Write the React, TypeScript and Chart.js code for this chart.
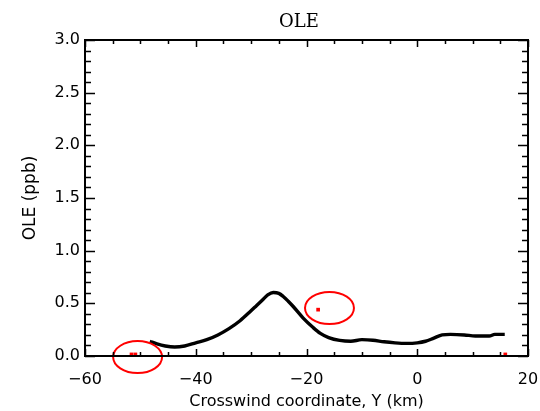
import React, { useEffect, useRef } from "react";
import { Chart, registerables } from "chart.js";

Chart.register(...registerables);

// Model curve (crosswind coordinate in km, OLE in ppb)
const curveX = [-48.3, -47, -45.5, -43.8, -42, -40, -38, -36, -34, -32, -30.2, -29, -28, -27, -26, -25, -24.2, -23.3, -22.4, -20.6, -18.8, -17.5, -16, -14, -12, -10, -8, -6, -4, -2, 0, 1.5, 3, 4.5, 6, 8.5, 10.5, 13, 14, 15.8];
const curveY = [0.14, 0.115, 0.095, 0.085, 0.095, 0.125, 0.155, 0.2, 0.26, 0.335, 0.42, 0.48, 0.53, 0.58, 0.603, 0.595, 0.565, 0.52, 0.47, 0.36, 0.27, 0.215, 0.175, 0.148, 0.14, 0.155, 0.15, 0.135, 0.125, 0.12, 0.125, 0.14, 0.17, 0.2, 0.205, 0.2, 0.19, 0.19, 0.205, 0.205];

// Observations (red squares)
const obsX = [-51.6, -50.9, -17.9, 15.9];
const obsY = [0.015, 0.015, 0.44, 0.015];

// Highlight ellipses (data units)
const ellipseCX = [-50.5, -15.85];
const ellipseCY = [-0.01, 0.456];
const ellipseRX = [4.42, 4.42];
const ellipseRY = [0.152, 0.152];

// Axis ticks
const xMajorTicks = [-60, -40, -20, 0, 20];
const yMajorTicks = [0, 0.5, 1.0, 1.5, 2.0, 2.5, 3.0];
const xMinorStep = 5;
const yMinorStep = 0.1;

const titleText = "OLE";
const xTitle = "Crosswind coordinate, Y (km)";
const yTitle = "OLE (ppb)";

export default function App() {
  const ref = useRef<HTMLCanvasElement | null>(null);

  useEffect(() => {
    if (!ref.current) return;

    const framePlugin = {
      id: "frameAndExtras",
      afterDatasetsDraw(chart: any) {
        const { ctx, chartArea, scales } = chart;
        const xs = scales.x;
        const ys = scales.y;
        const { left, right, top, bottom } = chartArea;
        ctx.save();
        // ellipses
        ctx.strokeStyle = "#ff0000";
        ctx.lineWidth = 2;
        for (let i = 0; i < ellipseCX.length; i++) {
          const cx = xs.getPixelForValue(ellipseCX[i]);
          const cy = ys.getPixelForValue(ellipseCY[i]);
          const rx = Math.abs(xs.getPixelForValue(ellipseCX[i] + ellipseRX[i]) - cx);
          const ry = Math.abs(ys.getPixelForValue(ellipseCY[i] + ellipseRY[i]) - cy);
          ctx.beginPath();
          ctx.ellipse(cx, cy, rx, ry, 0, 0, Math.PI * 2);
          ctx.stroke();
        }
        // frame
        ctx.strokeStyle = "#000";
        ctx.lineWidth = 2;
        ctx.strokeRect(left, top, right - left, bottom - top);
        // ticks
        ctx.lineWidth = 1.5;
        ctx.beginPath();
        const xMin = xMajorTicks[0];
        const xMax = xMajorTicks[xMajorTicks.length - 1];
        for (let v = xMin; v <= xMax + 1e-9; v += xMinorStep) {
          const isMajor = xMajorTicks.some((t) => Math.abs(t - v) < 1e-6);
          const len = isMajor ? 7 : 4;
          const px = Math.round(xs.getPixelForValue(v)) + 0.5;
          ctx.moveTo(px, bottom);
          ctx.lineTo(px, bottom - len);
          ctx.moveTo(px, top);
          ctx.lineTo(px, top + len);
        }
        const yMin = yMajorTicks[0];
        const yMax = yMajorTicks[yMajorTicks.length - 1];
        const nY = Math.round((yMax - yMin) / yMinorStep);
        for (let k = 0; k <= nY; k++) {
          const v = yMin + k * yMinorStep;
          const isMajor = yMajorTicks.some((t) => Math.abs(t - v) < 1e-6);
          const len = isMajor ? 10 : 6;
          const py = Math.round(ys.getPixelForValue(v)) + 0.5;
          ctx.moveTo(left, py);
          ctx.lineTo(left + len, py);
          ctx.moveTo(right, py);
          ctx.lineTo(right - len, py);
        }
        ctx.stroke();
        // title
        ctx.fillStyle = "#000";
        ctx.font = "18px 'DejaVu Serif'";
        ctx.textAlign = "center";
        ctx.textBaseline = "middle";
        ctx.fillText(titleText, 299, 22);
        ctx.restore();
      },
    };

    const minus = (n: number) => (n < 0 ? "\u2212" + Math.abs(n) : String(n));

    const chart = new Chart(ref.current, {
      type: "scatter",
      data: {
        datasets: [
          {
            label: "model",
            data: curveX.map((x, i) => ({ x, y: curveY[i] })),
            showLine: true,
            borderColor: "#000",
            borderWidth: 3.4,
            pointRadius: 0,
            cubicInterpolationMode: "monotone",
          } as any,
          {
            label: "obs",
            data: obsX.map((x, i) => ({ x, y: obsY[i] })),
            showLine: false,
            pointStyle: "rect",
            pointRadius: 2.6,
            backgroundColor: "#ff0000",
            borderColor: "#ff0000",
            borderWidth: 0,
            clip: false,
          } as any,
        ],
      },
      options: {
        responsive: false,
        animation: false,
        layout: { padding: { top: 40, right: 12, left: 0, bottom: 0 } },
        plugins: {
          legend: { display: false },
          tooltip: { enabled: false },
          title: { display: false },
        },
        scales: {
          x: {
            type: "linear",
            min: -60,
            max: 20,
            grid: { display: false, drawTicks: false },
            border: { display: false },
            afterBuildTicks: (s: any) => {
              s.ticks = xMajorTicks.map((v) => ({ value: v }));
            },
            afterFit: (s: any) => {
              s.height = 55;
              s.paddingLeft = 0;
              s.paddingRight = 0;
            },
            ticks: {
              padding: 14,
              color: "#000",
              font: { family: "'DejaVu Sans'", size: 16 },
              callback: (v: any) => minus(Number(v)),
              maxRotation: 0,
            },
            title: {
              display: true,
              text: xTitle,
              color: "#000",
              font: { family: "'DejaVu Sans'", size: 16 },
              padding: { top: 0, bottom: 0 },
            },
          },
          y: {
            type: "linear",
            min: 0,
            max: 3,
            grid: { display: false, drawTicks: false },
            border: { display: false },
            afterBuildTicks: (s: any) => {
              s.ticks = yMajorTicks.map((v) => ({ value: v }));
            },
            afterFit: (s: any) => {
              s.width = 85;
              s.paddingTop = 0;
              s.paddingBottom = 0;
            },
            ticks: {
              padding: 5,
              color: "#000",
              font: { family: "'DejaVu Sans'", size: 16 },
              callback: (v: any) => Number(v).toFixed(1),
            },
            title: {
              display: true,
              text: yTitle,
              color: "#000",
              font: { family: "'DejaVu Sans'", size: 17 },
              padding: { top: 20, bottom: 0 },
            },
          },
        },
      } as any,
      plugins: [framePlugin],
    });

    return () => chart.destroy();
  }, []);

  return (
    <div style={{ position: "absolute", left: 0, top: 0, width: 540, height: 411, background: "#fff" }}>
      <canvas ref={ref} width={540} height={411} />
    </div>
  );
}
